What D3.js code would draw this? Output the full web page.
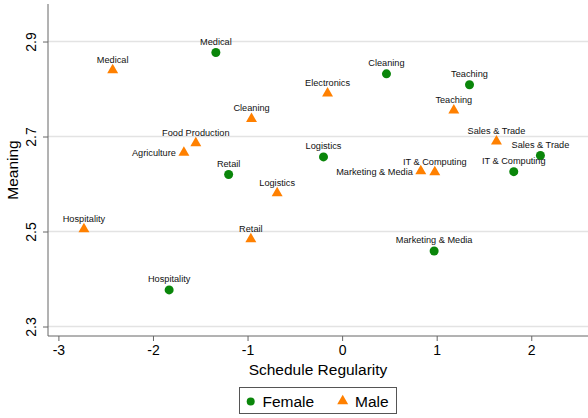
<!DOCTYPE html>
<html><head><meta charset="utf-8">
<script src="https://cdn.jsdelivr.net/npm/d3@7"></script>
<style>body{margin:0;background:#fff}svg{display:block;font-family:"Liberation Sans",Arial,sans-serif}</style>
</head><body>
<svg id="c" width="588" height="418"></svg>
<script>
const femaleNames = ["Medical","Retail","Cleaning","Teaching","Logistics","IT & Computing","Sales & Trade","Marketing & Media","Hospitality"];
const femaleX = [-1.335,-1.20,0.469,1.347,-0.197,1.815,2.097,0.973,-1.829];
const femaleY = [2.877,2.620,2.832,2.809,2.657,2.626,2.660,2.459,2.377];
const femalePos = ["top","top","top","top","top","top","top","top","top"];

const maleNames = ["Medical","Cleaning","Food Production","Agriculture","Logistics","Electronics","Teaching","Sales & Trade","Marketing & Media","IT & Computing","Hospitality","Retail"];
const maleX = [-2.426,-0.958,-1.547,-1.673,-0.687,-0.154,1.181,1.632,0.832,0.980,-2.730,-0.965];
const maleY = [2.840,2.737,2.686,2.666,2.581,2.791,2.755,2.690,2.627,2.625,2.505,2.484];
const malePos = ["top","top","top","left","top","top","top","top","left","top","top","top"];

const xTicks = [-3,-2,-1,0,1,2];
const yTicks = [2.3,2.5,2.7,2.9];
const xTitle = "Schedule Regularity";
const yTitle = "Meaning";
const legendLabels = ["Female","Male"];

const green = "#0a860a", orange = "#ff8000";
const svg = d3.select("#c");
const x = d3.scaleLinear().domain([-3.11, 2.6]).range([48, 588]);
const y = d3.scaleLinear().domain([2.28, 2.979]).range([336, 4]);

// grid
svg.append("g").selectAll("line").data(yTicks).join("line")
  .attr("x1", 48).attr("x2", 588).attr("y1", d => y(d)).attr("y2", d => y(d))
  .attr("stroke", "#e3e3e3").attr("stroke-width", 1.3);

// axes
const xAxis = d3.axisBottom(x).tickValues(xTicks).tickSize(5).tickPadding(4).tickFormat(d => String(d));
const gx = svg.append("g").attr("transform", "translate(0,336)").call(xAxis);
gx.select(".domain").attr("stroke", "#666").attr("d", "M48,0H588");
gx.selectAll(".tick line").attr("stroke", "#666");
gx.selectAll(".tick text").attr("font-size", 14).attr("fill", "#000").attr("font-family", "Liberation Sans, Arial, sans-serif");

const yAxis = d3.axisLeft(y).tickValues(yTicks).tickSize(5).tickFormat(d => d.toFixed(1));
const gy = svg.append("g").attr("transform", "translate(48,0)").call(yAxis);
gy.select(".domain").attr("stroke", "#666").attr("d", "M0,4V336");
gy.selectAll(".tick line").attr("stroke", "#666");
gy.selectAll(".tick text").attr("font-size", 14).attr("fill", "#000")
  .attr("font-family", "Liberation Sans, Arial, sans-serif")
  .attr("text-anchor", "middle").attr("x", null).attr("dy", null)
  .attr("transform", "translate(-12.5,0) rotate(-90)");

svg.append("text").attr("x", 318).attr("y", 375).attr("text-anchor", "middle")
  .attr("font-size", 15.5).text(xTitle);
svg.append("text").attr("transform", "translate(18,170) rotate(-90)").attr("text-anchor", "middle")
  .attr("font-size", 15.5).text(yTitle);

// data
const fem = femaleNames.map((n, i) => ({n, x: femaleX[i], y: femaleY[i], p: femalePos[i]}));
const mal = maleNames.map((n, i) => ({n, x: maleX[i], y: maleY[i], p: malePos[i]}));

const tri = d3.symbol().type(d3.symbolTriangle).size(52);
svg.append("g").selectAll("path").data(mal).join("path")
  .attr("d", tri).attr("fill", orange)
  .attr("transform", d => `translate(${x(d.x)},${y(d.y)})`);
svg.append("g").selectAll("circle").data(fem).join("circle")
  .attr("cx", d => x(d.x)).attr("cy", d => y(d.y)).attr("r", 4.5).attr("fill", green);

function labels(data) {
  svg.append("g").selectAll("text").data(data).join("text")
    .attr("font-size", 9.2).attr("fill", "#111")
    .attr("x", d => d.p === "left" ? x(d.x) - 8 : x(d.x))
    .attr("y", d => d.p === "left" ? y(d.y) + 3.5 : y(d.y) - 7.5)
    .attr("text-anchor", d => d.p === "left" ? "end" : "middle")
    .text(d => d.n);
}
labels(fem); labels(mal);

// legend
const lg = svg.append("g");
lg.append("rect").attr("x", 239.5).attr("y", 387.5).attr("width", 157).attr("height", 26)
  .attr("fill", "#fff").attr("stroke", "#555").attr("stroke-width", 1);
lg.append("circle").attr("cx", 250.7).attr("cy", 401.5).attr("r", 4).attr("fill", green);
lg.append("text").attr("x", 262.5).attr("y", 407).attr("font-size", 15.5).text(legendLabels[0]);
lg.append("path").attr("d", tri).attr("fill", orange).attr("transform", "translate(342.7,401)");
lg.append("text").attr("x", 355).attr("y", 407).attr("font-size", 15.5).text(legendLabels[1]);
</script>
</body></html>
